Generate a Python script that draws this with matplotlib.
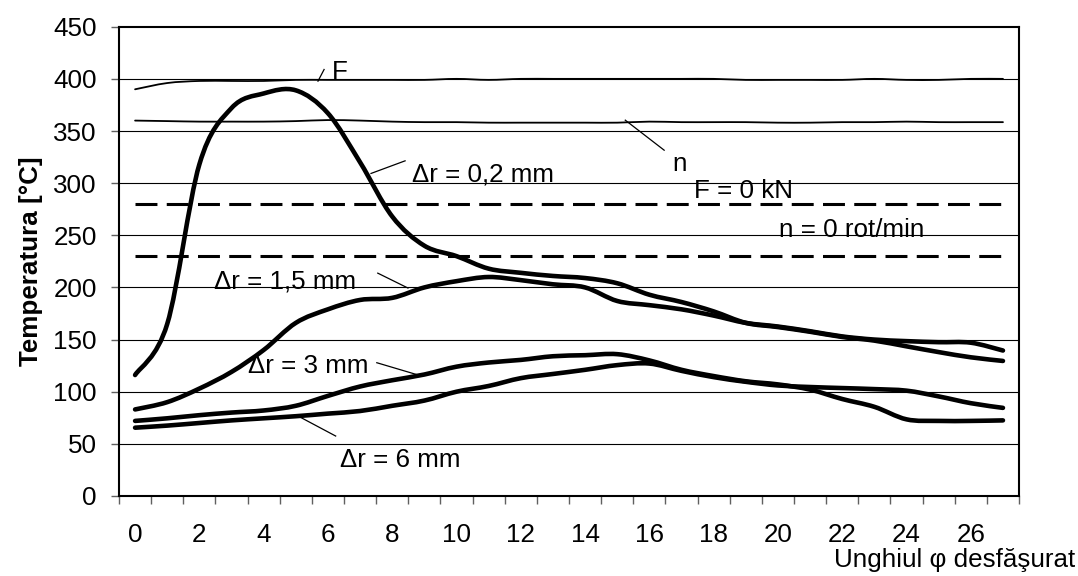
import numpy as np
import matplotlib
matplotlib.use('Agg')
import matplotlib.pyplot as plt
from matplotlib.path import Path
from matplotlib.patches import PathPatch

plt.rcParams['font.family'] = ['Liberation Sans', 'DejaVu Sans']
plt.rcParams['lines.scale_dashes'] = False

# categories on the x axis (unfolded angle)
unghi = list(range(28))
tick_labels = [str(v) for v in range(0, 27, 2)]

# temperature series [°C]
temp_02 = [116, 165, 318, 372, 386, 389, 367, 320, 268, 240, 230, 218, 214, 211,
           209, 204, 193, 186, 177, 166, 162, 157.5, 152.5, 149, 143.5, 138, 133, 129.5]
temp_15 = [83, 90, 103, 119, 140, 166, 179, 188, 190, 200, 206, 210, 207, 203,
           200, 187, 183, 179, 173, 166, 162.5, 158, 153, 150, 148.5, 147.5, 147, 139.5]
temp_3 = [72, 74.5, 77.5, 80, 82, 86.5, 96, 105, 111, 116.5, 124, 128, 130.5, 134,
          135, 136, 130, 121, 115, 110, 107, 102, 93, 85.5, 73.5, 72, 72, 72.5]
temp_6 = [65.5, 67.5, 70, 72.5, 74.5, 76.5, 79, 81.5, 86.5, 91.5, 100, 105.5, 113, 117,
          121, 125.5, 127, 120, 114, 109.5, 106, 104.5, 103.5, 102.5, 101, 95.5, 89, 84.5]
# force and speed traces (drawn on the same scale)
forta = [390, 396, 398, 398, 398, 399, 399, 399, 399, 399, 400, 399, 400, 400,
         400, 400, 400, 400, 400, 399, 399, 399, 399, 400, 399, 399, 400, 400]
turatie = [360, 359.5, 359, 359, 359, 359.5, 360.5, 360, 359, 358.5, 358.5, 358, 358, 358,
           358, 358, 359, 358.5, 358.5, 358.5, 358, 358, 358.5, 358.5, 359, 358.5, 358.5, 358.5]
# zero levels
nivel_f0 = 280
nivel_n0 = 230

# labels: text, x, y (baseline, left)
etichete = [
    ('F', 6.12, 399.4),
    ('\u0394r = 0,2 mm', 8.61, 301.9),
    ('n', 16.70, 311.8),
    ('F = 0 kN', 17.39, 285.3),
    ('n = 0 rot/min', 20.02, 248.0),
    ('\u0394r = 1,5 mm', 2.47, 199.1),
    ('\u0394r = 3 mm', 3.51, 118.2),
    ('\u0394r = 6 mm', 6.38, 28.1),
]
# leader lines: (x1, y1, x2, y2)
linii_ajut = [
    (5.69, 397.8, 5.88, 409.0),
    (7.34, 309.3, 8.40, 321.4),
    (15.25, 360.4, 16.46, 331.6),
    (7.55, 213.7, 8.49, 199.4),
    (7.52, 127.8, 8.81, 116.0),
    (5.13, 75.7, 6.24, 57.5),
]


def smooth_line(ax, x, y, lw):
    # smoothed line like the spreadsheet chart (cubic bezier through the points)
    pts = np.column_stack([x, y]).astype(float)
    n = len(pts)
    verts = [pts[0]]
    codes = [Path.MOVETO]
    for i in range(n - 1):
        p0 = pts[max(i - 1, 0)]
        p1 = pts[i]
        p2 = pts[i + 1]
        p3 = pts[min(i + 2, n - 1)]
        verts += [p1 + (p2 - p0) / 6, p2 - (p3 - p1) / 6, p2]
        codes += [Path.CURVE4] * 3
    patch = PathPatch(Path(verts, codes), fill=False, lw=lw, edgecolor='black',
                      capstyle='round', joinstyle='round', zorder=3)
    ax.add_patch(patch)


fs = 18.7
fig = plt.figure(figsize=(10.78, 5.76), dpi=100)
ax = fig.add_axes([0.1104, 0.1389, 0.8349, 0.8147])

ax.set_xlim(-0.5, 27.5)
ax.set_ylim(0, 450)

for yv in range(50, 450, 50):
    ax.axhline(yv, color='black', lw=0.8, zorder=1)

ax.plot(unghi, [nivel_f0] * len(unghi), color='black', lw=2.2, dashes=(15.8, 6.7), zorder=2)
ax.plot(unghi, [nivel_n0] * len(unghi), color='black', lw=2.2, dashes=(15.8, 6.7), zorder=2)

smooth_line(ax, unghi, forta, 1.3)
smooth_line(ax, unghi, turatie, 1.3)
for serie in [temp_02, temp_15, temp_3, temp_6]:
    smooth_line(ax, unghi, serie, 3.3)

for txt, x, y in etichete:
    ax.text(x, y, txt, fontsize=fs, ha='left', va='baseline', zorder=4)
for x1, y1, x2, y2 in linii_ajut:
    ax.plot([x1, x2], [y1, y2], color='black', lw=0.9, zorder=4)

for s in ax.spines.values():
    s.set_linewidth(1.5)
    s.set_color('black')

ax.set_yticks(range(0, 451, 50))
ax.tick_params(axis='y', direction='out', length=5.8, width=1.0, color='#606060',
               labelsize=fs, pad=10.3)
ax.set_xticks(np.arange(-0.5, 28, 1))
ax.set_xticklabels([])
ax.set_xticks(range(0, 27, 2), minor=True)
ax.set_xticklabels(tick_labels, minor=True)
ax.tick_params(axis='x', which='major', direction='out', length=5.8, width=1.0, color='#606060')
ax.tick_params(axis='x', which='minor', length=0, labelsize=fs, pad=19.5)

ax.set_ylabel('Temperatura [\u00b0C]', fontsize=fs, fontweight='bold')
ax.yaxis.set_label_coords(-0.0844, 0.5)

fig.text(1075 / 1078, 1 - 567 / 576, 'Unghiul \u03c6 desf\u0103\u015furat', fontsize=fs,
         ha='right', va='baseline')

fig.savefig('out.png', dpi=100)
